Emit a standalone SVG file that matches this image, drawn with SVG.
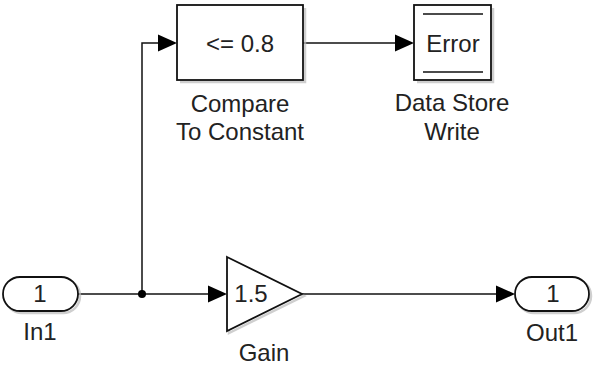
<svg xmlns="http://www.w3.org/2000/svg" width="593" height="366" viewBox="0 0 593 366">
<style>
text{font-family:"Liberation Sans",Arial,sans-serif;font-size:24px;fill:#222;text-anchor:middle}
.blk{fill:#fff;stroke:#111;stroke-width:1.8}
.sh{fill:none;stroke:#bbb;stroke-width:2.5;opacity:0.7}
.ln{fill:none;stroke:#111;stroke-width:1.5}
.ah{fill:#000}
</style>
<rect width="593" height="366" fill="#fff"/>
<g id="connectors">
<path class="ln" d="M78,294 H210"/>
<path class="ln" d="M142,294 V43 H159"/>
<path class="ln" d="M303,43 H396"/>
<path class="ln" d="M302,294 H497"/>
<circle cx="142" cy="294" r="4" fill="#000"/>
<polygon class="ah" points="158,34.5 177,43 158,51.5"/>
<polygon class="ah" points="395,34.5 414,43 395,51.5"/>
<polygon class="ah" points="208,285.5 227,294 208,302.5"/>
<polygon class="ah" points="496,285.5 515,294 496,302.5"/>
</g>
<g id="compare">
<path class="sh" d="M180,82 H305 V8"/>
<rect class="blk" x="177" y="5" width="126" height="75"/>
<text x="240" y="52">&lt;= 0.8</text>
<text x="240" y="112">Compare</text>
<text x="240" y="140">To Constant</text>
</g>
<g id="datastore">
<path class="sh" d="M417,82 H493 V8"/>
<rect class="blk" x="414" y="5" width="77" height="75"/>
<path class="ln" d="M423,14 H483 M423,72 H483"/>
<text x="453" y="52">Error</text>
<text x="452" y="111">Data Store</text>
<text x="452" y="140">Write</text>
</g>
<g id="in1">
<rect x="5" y="279" width="75" height="34" rx="17" fill="none" stroke="#bbb" stroke-width="2.5" opacity="0.7"/>
<rect class="blk" x="3" y="277" width="75" height="34" rx="17"/>
<text x="40" y="302">1</text>
<text x="40" y="340">In1</text>
</g>
<g id="gain">
<polygon points="229,259 304,296 229,333" fill="none" stroke="#bbb" stroke-width="2.5" opacity="0.7"/>
<polygon class="blk" points="227,257 302,294 227,331"/>
<text x="251" y="302">1.5</text>
<text x="264" y="361">Gain</text>
</g>
<g id="out1">
<rect x="517" y="279" width="74" height="34" rx="17" fill="none" stroke="#bbb" stroke-width="2.5" opacity="0.7"/>
<rect class="blk" x="515" y="277" width="74" height="34" rx="17"/>
<text x="553" y="302">1</text>
<text x="552" y="341">Out1</text>
</g>
</svg>
